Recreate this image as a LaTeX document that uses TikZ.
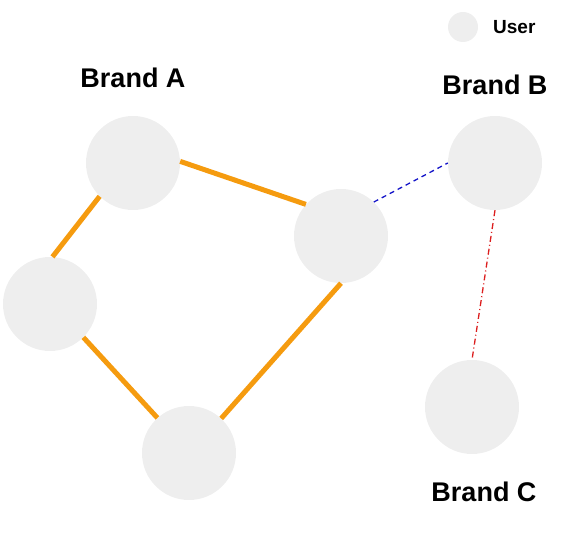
\documentclass[tikz,border=0pt]{standalone}
\usepackage{fontspec}
\setmainfont{Liberation Sans}
\definecolor{nodegray}{HTML}{EEEEEE}
\definecolor{edgeorange}{RGB}{245,155,15}
\definecolor{dashblue}{RGB}{20,20,200}
\definecolor{dashred}{RGB}{220,30,30}
\begin{document}
\begin{tikzpicture}[x=1pt,y=-1pt,
  user/.style={circle,fill=nodegray,minimum size=94pt,inner sep=0pt},
  brand/.style={font=\fontsize{27}{31}\selectfont\bfseries,inner sep=0pt},
  strong/.style={edgeorange,line width=5pt},
  bluelink/.style={dashblue,line width=1.3pt,dash pattern=on 5pt off 4pt},
  redlink/.style={dashred,line width=1.3pt,dash pattern=on 6pt off 3pt on 1pt off 3pt}]
\useasboundingbox (0,0) rectangle (574,540);
\node[user] (a) at (133,163) {};
\node[user] (l) at (50,304) {};
\node[user] (bt) at (189,453) {};
\node[user] (m) at (341,236) {};
\node[user] (b) at (495,163) {};
\node[user] (c) at (472,407) {};
\node[circle,fill=nodegray,minimum size=30pt,inner sep=0pt] (u) at (463,27) {};
\node[anchor=west,font=\fontsize{19}{23}\selectfont\bfseries,inner sep=0pt] (ut) at (493,27) {User};
\node[brand] (la) at (133,78) {Brand A};
\node[brand] (lb) at (495,85) {Brand B};
\node[brand] (lc) at (484,492) {Brand C};
\draw[strong] (a.225) -- (l.87);
\draw[strong] (a.2) -- (m.138);
\draw[strong] (l.-45) -- (bt.132);
\draw[strong] (bt.47) -- (m.-90);
\draw[bluelink] (m.46) -- (b.180);
\draw[redlink] (b.-90) -- (c.90);
\end{tikzpicture}
\end{document}
